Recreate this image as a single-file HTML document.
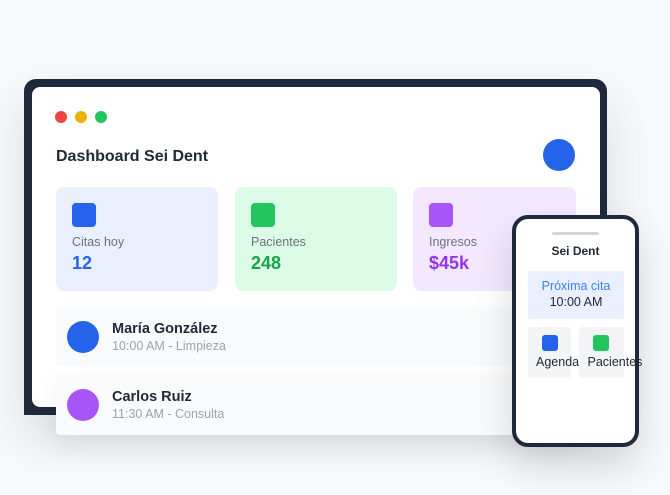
<!DOCTYPE html>
<html><head><meta charset="utf-8"><style>
*{margin:0;padding:0;box-sizing:border-box}
html,body{width:670px;height:495px;overflow:hidden;background:#f8f9fb;font-family:"Liberation Sans",Arial,sans-serif}
.a{position:absolute}
.t{position:absolute;white-space:nowrap}
</style></head><body>
<!-- laptop -->
<div class="a" style="left:24px;top:79px;width:583px;height:336px;background:#1e293b;border-radius:12px 12px 0 0;box-shadow:0 22px 50px rgba(15,23,42,0.13)"></div>
<div class="a" style="left:32px;top:87px;width:568px;height:320px;background:#fff;border-radius:8px"></div>
<div class="a" style="left:55px;top:111px;width:12px;height:12px;border-radius:50%;background:#ef4444"></div>
<div class="a" style="left:75px;top:111px;width:12px;height:12px;border-radius:50%;background:#eab308"></div>
<div class="a" style="left:95px;top:111px;width:12px;height:12px;border-radius:50%;background:#22c55e"></div>
<div class="t" style="left:56px;top:148.5px;font-size:16px;line-height:16px;font-weight:bold;color:#1f2937">Dashboard Sei Dent</div>
<div class="a" style="left:543px;top:139px;width:32px;height:32px;border-radius:50%;background:#2563eb"></div>
<!-- cards -->
<div class="a" style="left:56px;top:187px;width:162px;height:104px;background:#e9effc;border-radius:8px"></div>
<div class="a" style="left:235px;top:187px;width:162px;height:104px;background:#dcfce7;border-radius:8px"></div>
<div class="a" style="left:413px;top:187px;width:163px;height:104px;background:#f3e8ff;border-radius:8px"></div>
<div class="a" style="left:72px;top:203px;width:24px;height:24px;background:#2563eb;border-radius:4px"></div>
<div class="a" style="left:251px;top:203px;width:24px;height:24px;background:#22c55e;border-radius:4px"></div>
<div class="a" style="left:429px;top:203px;width:24px;height:24px;background:#a855f7;border-radius:4px"></div>
<div class="t" style="left:72px;top:236.4px;font-size:12.5px;line-height:12.5px;color:#6b7280">Citas hoy</div>
<div class="t" style="left:251px;top:236.4px;font-size:12.5px;line-height:12.5px;color:#6b7280">Pacientes</div>
<div class="t" style="left:429px;top:236.4px;font-size:12.5px;line-height:12.5px;color:#6b7280">Ingresos</div>
<div class="t" style="left:72px;top:254px;font-size:18px;line-height:18px;font-weight:bold;color:#2563eb">12</div>
<div class="t" style="left:251px;top:254px;font-size:18px;line-height:18px;font-weight:bold;color:#16a34a">248</div>
<div class="t" style="left:429px;top:254px;font-size:18px;line-height:18px;font-weight:bold;color:#9333ea">$45k</div>
<!-- rows -->
<div class="a" style="left:56px;top:307px;width:520px;height:59px;background:#f9fafb;border-radius:4px"></div>
<div class="a" style="left:56px;top:375px;width:520px;height:60px;background:#f9fafb;border-radius:4px;box-shadow:0 10px 24px rgba(15,23,42,0.07)"></div>
<div class="a" style="left:67px;top:321px;width:32px;height:32px;border-radius:50%;background:#2563eb"></div>
<div class="a" style="left:67px;top:389px;width:32px;height:32px;border-radius:50%;background:#a855f7"></div>
<div class="t" style="left:112px;top:322px;font-size:14.5px;line-height:14.5px;font-weight:bold;color:#1f2937">María González</div>
<div class="t" style="left:112px;top:340px;font-size:12.5px;line-height:12.5px;color:#9ca3af">10:00 AM - Limpieza</div>
<div class="t" style="left:112px;top:390px;font-size:14.5px;line-height:14.5px;font-weight:bold;color:#1f2937">Carlos Ruiz</div>
<div class="t" style="left:112px;top:408.4px;font-size:12.5px;line-height:12.5px;color:#9ca3af">11:30 AM - Consulta</div>
<!-- phone -->
<div class="a" style="left:512px;top:215px;width:127px;height:232px;background:#fff;border:4px solid #1e293b;border-radius:16px;box-shadow:0 18px 40px rgba(15,23,42,0.15)"></div>
<div class="a" style="left:552px;top:232px;width:47px;height:3px;background:#d1d5db;border-radius:2px"></div>
<div class="t" style="left:551.5px;top:244.8px;font-size:12px;line-height:12px;font-weight:bold;color:#1f2937">Sei Dent</div>
<div class="a" style="left:528px;top:271px;width:96px;height:48px;background:#e9effc;border-radius:3px"></div>
<div class="t" style="left:528px;width:96px;text-align:center;top:280.4px;font-size:12.5px;line-height:12.5px;color:#3b82f6">Próxima cita</div>
<div class="t" style="left:528px;width:96px;text-align:center;top:296.1px;font-size:12.5px;line-height:12.5px;color:#1f2937">10:00 AM</div>
<div class="a" style="left:528px;top:327px;width:43px;height:51px;background:#f3f4f6;border-radius:3px"></div>
<div class="a" style="left:579px;top:327px;width:45px;height:51px;background:#f3f4f6;border-radius:3px"></div>
<div class="a" style="left:542px;top:335px;width:16px;height:16px;background:#2563eb;border-radius:3px"></div>
<div class="a" style="left:593px;top:335px;width:16px;height:16px;background:#22c55e;border-radius:3px"></div>
<div class="t" style="left:536px;top:356.1px;font-size:12.5px;line-height:12.5px;color:#1f2937">Agenda</div>
<div class="t" style="left:587.5px;top:356.1px;font-size:12.5px;line-height:12.5px;color:#1f2937">Pacientes</div>
</body></html>
